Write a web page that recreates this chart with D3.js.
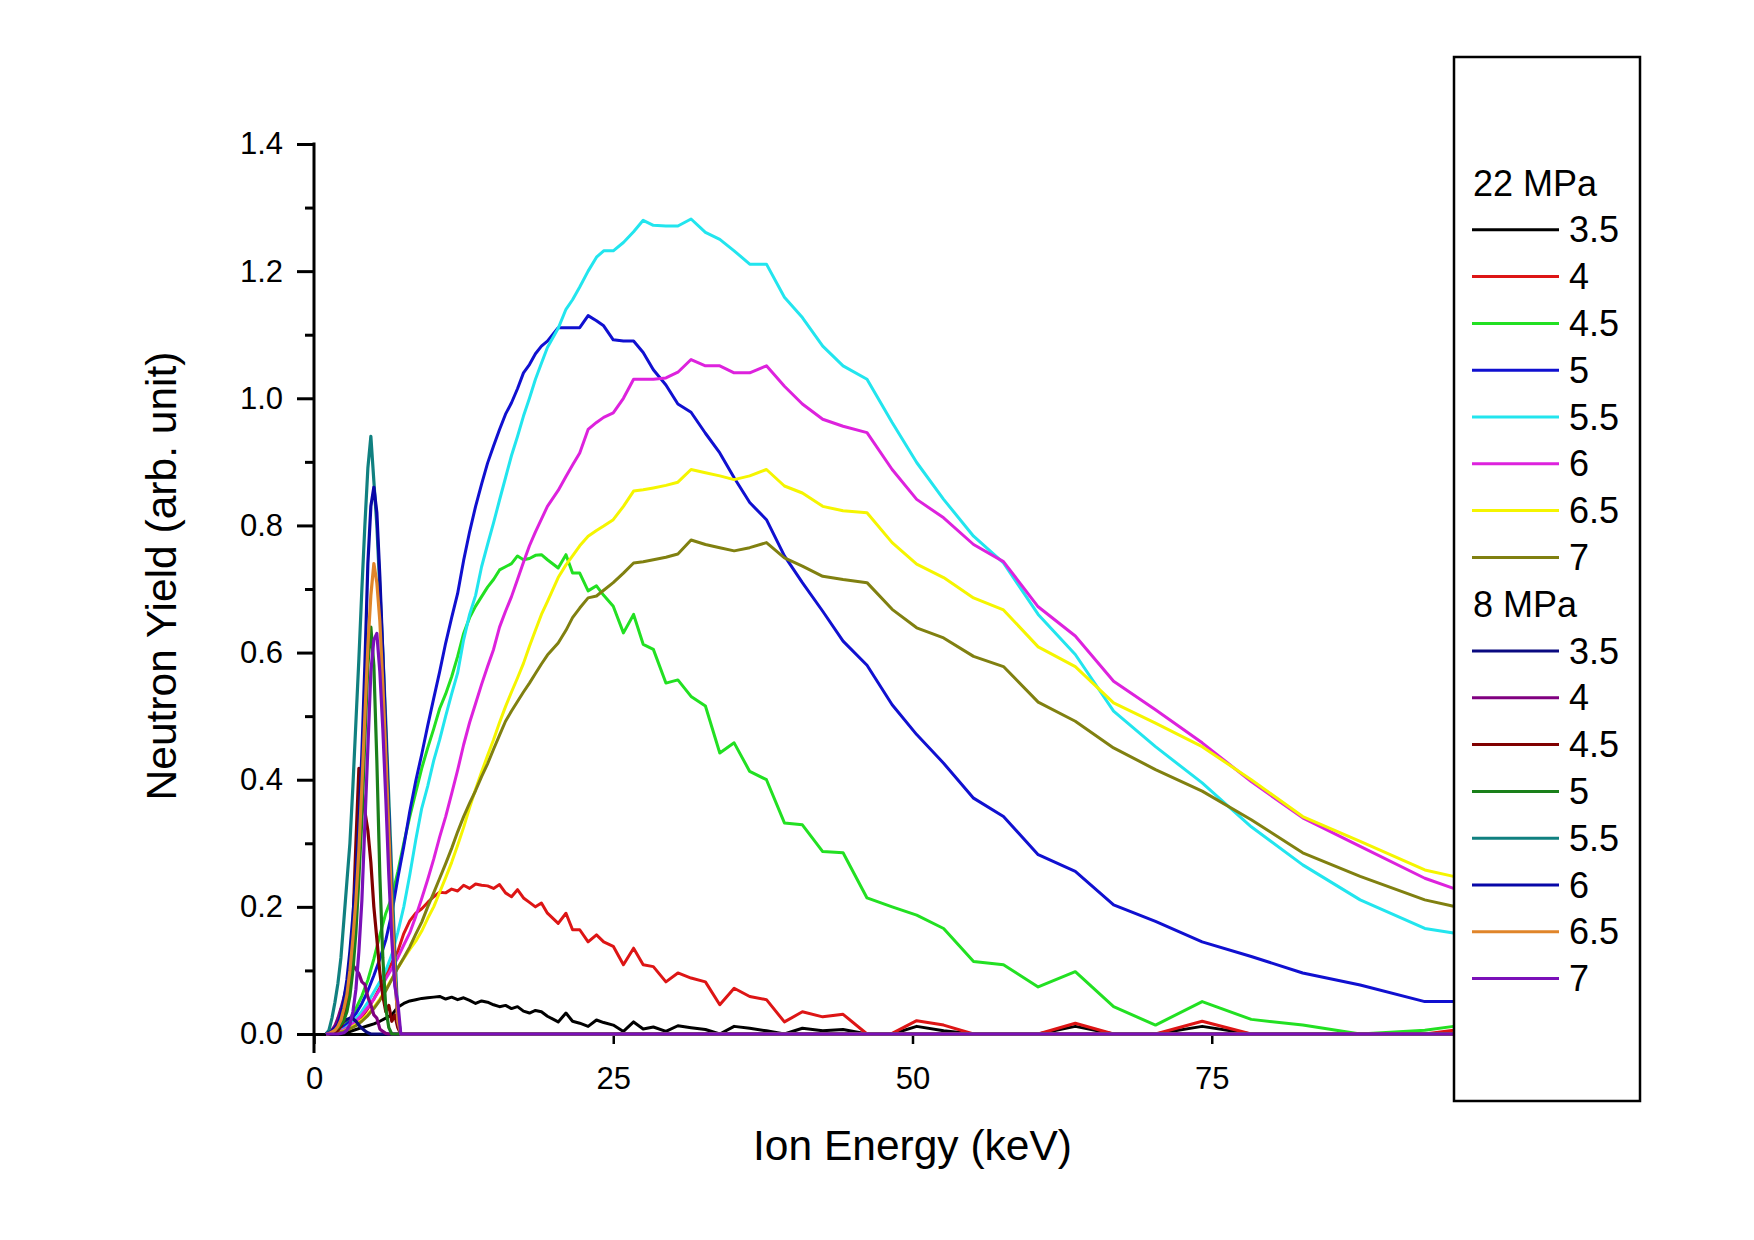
<!DOCTYPE html>
<html><head><meta charset="utf-8">
<script src="https://cdn.jsdelivr.net/npm/d3@7"></script>
<style>
body{margin:0;background:#fff}
svg{display:block}
text{font-family:"Liberation Sans",Arial,sans-serif;fill:#000}
</style>
</head><body>
<svg id="chart" width="1754" height="1240"></svg>
<script>
// ---------- DATA ----------
const energy22 = [1,1.5,2,2.5,3,3.5,4,4.5,5,5.5,6,6.5,
  7,7.5,8,8.5,9,9.5,10,10.5,11,11.5,12,12.5,
  13,13.5,14,14.5,15,15.5,16,16.5,17,17.5,18,18.5,19,19.5,
  20.4,21.05,21.6,22.2,22.9,23.6,24.2,25,25.85,26.7,
  27.5,28.35,29.4,30.4,31.5,32.7,33.9,35.1,36.4,37.8,
  39.3,40.8,42.5,44.2,46.2,48.3,50.35,52.6,55.1,57.6,
  60.5,63.6,66.8,70.3,74.2,78.3,82.6,87.4,92.8,95.2];

const y22_3_5 = [0,0,0.001,0.002,0.004,0.007,0.010,0.013,0.016,0.020,0.025,0.030,
  0.042,0.048,0.052,0.054,0.056,0.057,0.058,0.059,0.055,0.058,0.054,0.057,
  0.053,0.048,0.052,0.050,0.046,0.043,0.045,0.040,0.043,0.036,0.033,0.037,0.035,0.028,
  0.019,0.033,0.020,0.017,0.012,0.022,0.018,0.014,0.004,0.019,
  0.008,0.011,0.004,0.013,0.010,0.007,0,0.012,0.009,0.005,
  0,0.009,0.005,0.007,0,0,0.012,0.005,0,0,
  0,0.012,0,0,0.012,0,0,0,0,0];
const y22_4 = [0,0.001,0.003,0.006,0.011,0.018,0.027,0.040,0.055,0.073,0.093,0.112,
  0.130,0.158,0.178,0.190,0.197,0.207,0.216,0.223,0.222,0.228,0.225,0.234,
  0.229,0.236,0.234,0.233,0.229,0.235,0.222,0.216,0.227,0.214,0.207,0.200,0.206,0.190,
  0.174,0.190,0.164,0.164,0.145,0.156,0.145,0.138,0.109,0.135,
  0.109,0.106,0.082,0.096,0.088,0.082,0.046,0.072,0.059,0.054,
  0.019,0.035,0.027,0.031,0,0.001,0.021,0.014,0,0,
  0,0.017,0,0,0.020,0,0,0,0,0.006];
const y22_4_5 = [0,0.002,0.006,0.013,0.024,0.040,0.060,0.085,0.118,0.155,0.190,0.215,
  0.255,0.300,0.342,0.380,0.418,0.450,0.480,0.512,0.535,0.562,0.594,0.630,
  0.655,0.673,0.688,0.703,0.715,0.730,0.735,0.740,0.752,0.746,0.748,0.753,0.754,0.746,
  0.733,0.754,0.725,0.725,0.697,0.705,0.690,0.673,0.631,0.660,
  0.613,0.605,0.552,0.557,0.531,0.516,0.442,0.458,0.413,0.400,
  0.332,0.329,0.287,0.285,0.214,0.200,0.187,0.166,0.114,0.109,
  0.074,0.098,0.043,0.014,0.051,0.023,0.014,0,0.006,0.012];
const y22_5 = [0,0.002,0.006,0.012,0.020,0.032,0.048,0.068,0.092,0.118,0.148,0.190,
  0.245,0.295,0.350,0.398,0.440,0.485,0.528,0.570,0.615,0.655,0.693,0.745,
  0.790,0.830,0.865,0.898,0.925,0.951,0.975,0.993,1.015,1.040,1.053,1.070,1.082,1.090,
  1.111,1.111,1.111,1.111,1.130,1.122,1.114,1.092,1.090,1.090,
  1.072,1.045,1.021,0.991,0.978,0.945,0.914,0.875,0.836,0.809,
  0.752,0.710,0.665,0.618,0.580,0.518,0.471,0.426,0.371,0.342,
  0.282,0.256,0.203,0.177,0.145,0.122,0.096,0.077,0.051,0.051];
const y22_5_5 = [0,0.001,0.004,0.008,0.015,0.024,0.036,0.050,0.066,0.082,0.100,0.125,
  0.160,0.200,0.250,0.305,0.355,0.390,0.430,0.463,0.500,0.535,0.568,0.620,
  0.660,0.690,0.735,0.770,0.804,0.840,0.875,0.910,0.940,0.972,1.000,1.030,1.055,1.080,
  1.110,1.140,1.155,1.175,1.200,1.222,1.232,1.232,1.245,1.262,
  1.280,1.272,1.271,1.271,1.282,1.261,1.250,1.232,1.211,1.211,
  1.159,1.127,1.082,1.051,1.030,0.962,0.899,0.841,0.783,0.741,
  0.660,0.597,0.508,0.452,0.395,0.326,0.266,0.211,0.166,0.159];
const y22_6 = [0,0.001,0.003,0.007,0.012,0.020,0.030,0.042,0.055,0.070,0.087,0.103,
  0.120,0.140,0.159,0.185,0.213,0.243,0.275,0.310,0.342,0.378,0.415,0.455,
  0.490,0.520,0.550,0.578,0.605,0.640,0.665,0.688,0.715,0.742,0.768,0.790,0.810,0.830,
  0.855,0.877,0.895,0.914,0.951,0.962,0.970,0.977,1.000,1.030,
  1.030,1.030,1.032,1.041,1.061,1.051,1.051,1.040,1.040,1.051,
  1.019,0.991,0.967,0.956,0.946,0.888,0.841,0.812,0.770,0.743,
  0.672,0.626,0.555,0.510,0.458,0.397,0.340,0.295,0.245,0.229];
const y22_6_5 = [0,0.001,0.002,0.005,0.009,0.015,0.022,0.031,0.042,0.055,0.070,0.087,
  0.104,0.119,0.133,0.146,0.162,0.182,0.200,0.223,0.246,0.270,0.297,0.325,
  0.356,0.385,0.412,0.438,0.463,0.490,0.515,0.538,0.560,0.583,0.610,0.635,0.660,0.680,
  0.718,0.738,0.752,0.768,0.783,0.792,0.799,0.809,0.830,0.854,
  0.856,0.859,0.863,0.868,0.888,0.883,0.878,0.872,0.878,0.888,
  0.862,0.851,0.830,0.823,0.820,0.773,0.739,0.718,0.686,0.667,
  0.609,0.578,0.521,0.489,0.452,0.400,0.342,0.303,0.258,0.248];
const y22_7 = [0,0.001,0.002,0.004,0.008,0.013,0.020,0.029,0.040,0.053,0.068,0.086,
  0.104,0.120,0.137,0.157,0.176,0.200,0.222,0.245,0.268,0.292,0.318,0.342,
  0.363,0.383,0.405,0.425,0.448,0.470,0.492,0.508,0.523,0.538,0.552,0.567,0.582,0.596,
  0.615,0.635,0.655,0.670,0.686,0.689,0.698,0.710,0.725,0.741,
  0.743,0.746,0.750,0.755,0.777,0.770,0.765,0.760,0.765,0.773,
  0.749,0.736,0.720,0.715,0.710,0.668,0.639,0.623,0.594,0.578,
  0.522,0.492,0.450,0.416,0.382,0.337,0.285,0.248,0.211,0.201];

const energy8 = [1,1.25,1.5,1.75,2,2.25,2.5,2.75,3,3.25,3.5,3.75,4,4.25,4.5,4.75,
  5,5.25,5.5,5.75,6,6.25,6.5,6.75,7,7.25,7.5,100];
const y8_3_5 = [0,0.001,0.003,0.006,0.010,0.015,0.020,0.023,0.025,0.024,0.020,0.014,0.009,0.005,0.002,0,
  0,0,0,0,0,0,0,0,0,0,0,0];
const y8_4 = [0,0.002,0.006,0.013,0.025,0.040,0.057,0.077,0.096,0.108,0.102,0.095,0.082,0.078,0.058,0.046,
  0.030,0.025,0.008,0.004,0.001,0,0,0,0,0,0,0];
const y8_4_5 = [0,0,0.001,0.003,0.006,0.012,0.022,0.045,0.085,0.170,0.300,0.418,0.385,0.350,0.320,0.270,
  0.200,0.150,0.097,0.060,0.035,0.045,0.020,0.030,0.010,0,0,0];
const y8_5 = [0,0.001,0.003,0.006,0.010,0.015,0.022,0.035,0.060,0.100,0.160,0.245,0.340,0.465,0.580,0.640,
  0.580,0.430,0.250,0.120,0.040,0.010,0,0,0,0,0,0];
const y8_5_5 = [0,0.006,0.025,0.050,0.080,0.120,0.180,0.240,0.300,0.390,0.490,0.590,0.700,0.800,0.890,0.940,
  0.870,0.800,0.700,0.600,0.490,0.370,0.250,0.130,0.030,0,0,0];
const y8_6 = [0,0.002,0.005,0.009,0.015,0.030,0.055,0.085,0.130,0.185,0.250,0.330,0.440,0.580,0.740,0.830,
  0.860,0.820,0.720,0.600,0.470,0.340,0.200,0.100,0.020,0,0,0];
const y8_6_5 = [0,0.001,0.003,0.006,0.012,0.022,0.040,0.062,0.100,0.150,0.210,0.290,0.390,0.500,0.610,0.690,
  0.740,0.710,0.650,0.550,0.440,0.320,0.200,0.100,0.020,0,0,0];
const y8_7 = [0,0,0,0,0,0.001,0.002,0.006,0.015,0.035,0.070,0.130,0.210,0.330,0.450,0.570,
  0.620,0.630,0.570,0.480,0.370,0.250,0.150,0.075,0.050,0,0,0];

const groupNames = ["22 MPa", "8 MPa"];
const seriesLabels = ["3.5","4","4.5","5","5.5","6","6.5","7"];
const colors22 = ["#000000","#dd1515","#22e022","#1010d0","#22e5ee","#dd22dd","#f5f500","#808010"];
const colors8  = ["#0a0a80","#800080","#800000","#1a801a","#108080","#0808a8","#e0852a","#7a10b8"];
const values22 = [y22_3_5,y22_4,y22_4_5,y22_5,y22_5_5,y22_6,y22_6_5,y22_7];
const values8  = [y8_3_5,y8_4,y8_4_5,y8_5,y8_5_5,y8_6,y8_6_5,y8_7];

const xTickValues = [0,25,50,75,100];
const yMajorTicks = [0,0.2,0.4,0.6,0.8,1.0,1.2,1.4];
const yMinorTicks = [0.1,0.3,0.5,0.7,0.9,1.1,1.3];
const xTitle = "Ion Energy (keV)";
const yTitle = "Neutron Yield (arb. unit)";

// ---------- DRAW ----------
const svg = d3.select("#chart");
svg.append("rect").attr("width",1754).attr("height",1240).attr("fill","#fff");

const x = d3.scaleLinear().domain([0,100]).range([314,1511]);
const y = d3.scaleLinear().domain([0,1.4]).range([1034,144]);

// y axis
const gy = svg.append("g").attr("transform","translate(314,0)");
gy.call(d3.axisLeft(y).tickValues(yMajorTicks).tickSize(17).tickSizeOuter(0).tickPadding(14)
  .tickFormat(d3.format(".1f")));
gy.append("g").call(d3.axisLeft(y).tickValues(yMinorTicks).tickSize(9).tickSizeOuter(0).tickFormat(""));
gy.selectAll("path.domain").remove();
gy.selectAll("line").attr("stroke","#000").attr("stroke-width",3);
gy.selectAll("text").attr("font-size",31).attr("font-family","Liberation Sans, Arial, sans-serif");
svg.append("line").attr("x1",314).attr("x2",314).attr("y1",y(1.4)-1.5).attr("y2",1053)
  .attr("stroke","#000").attr("stroke-width",3);

// x axis
const gx = svg.append("g").attr("transform","translate(0,1034)");
gx.call(d3.axisBottom(x).tickValues(xTickValues).tickSize(10).tickSizeOuter(0).tickPadding(23)
  .tickFormat(d3.format("d")));
gx.select("path.domain").attr("stroke","#000").attr("stroke-width",3);
gx.selectAll("line").attr("stroke","#000").attr("stroke-width",2.5);
gx.selectAll("text").attr("font-size",31).attr("font-family","Liberation Sans, Arial, sans-serif");

// titles
svg.append("text").attr("x",x(50)).attr("y",1160).attr("text-anchor","middle")
  .attr("font-size",42.5).text(xTitle);
svg.append("text").attr("transform","translate(176,576) rotate(-90)").attr("text-anchor","middle")
  .attr("font-size",42.5).text(yTitle);

// data
svg.append("clipPath").attr("id","clip").append("rect")
  .attr("x",314).attr("y",100).attr("width",1197).attr("height",960);
const plot = svg.append("g").attr("clip-path","url(#clip)");
const line22 = d3.line().x((d,i)=>x(energy22[i])).y(d=>y(d));
const line8 = d3.line().x((d,i)=>x(energy8[i])).y(d=>y(d));
values22.forEach((vals,i)=>{
  plot.append("path").attr("d",line22(vals)).attr("fill","none")
    .attr("stroke",colors22[i]).attr("stroke-width",3).attr("stroke-linejoin","round");
});
values8.forEach((vals,i)=>{
  plot.append("path").attr("d",line8(vals)).attr("fill","none")
    .attr("stroke",colors8[i]).attr("stroke-width",3.2).attr("stroke-linejoin","round");
});

// legend
const lg = svg.append("g");
lg.append("rect").attr("x",1454).attr("y",57).attr("width",186).attr("height",1044)
  .attr("fill","#fff").attr("stroke","#000").attr("stroke-width",2.5);
const rowY = i => 183 + i*46.8;
const groups = [{name:groupNames[0], colors:colors22},{name:groupNames[1], colors:colors8}];
groups.forEach((g,gi)=>{
  const base = gi*9;
  lg.append("text").attr("x",1473).attr("y",rowY(base)).attr("dy","0.35em")
    .attr("font-size",36).text(g.name);
  seriesLabels.forEach((lab,j)=>{
    const yy = rowY(base+1+j);
    lg.append("line").attr("x1",1472).attr("x2",1559).attr("y1",yy).attr("y2",yy)
      .attr("stroke",g.colors[j]).attr("stroke-width",3);
    lg.append("text").attr("x",1569).attr("y",yy).attr("dy","0.35em")
      .attr("font-size",36).text(lab);
  });
});
</script>
</body></html>
